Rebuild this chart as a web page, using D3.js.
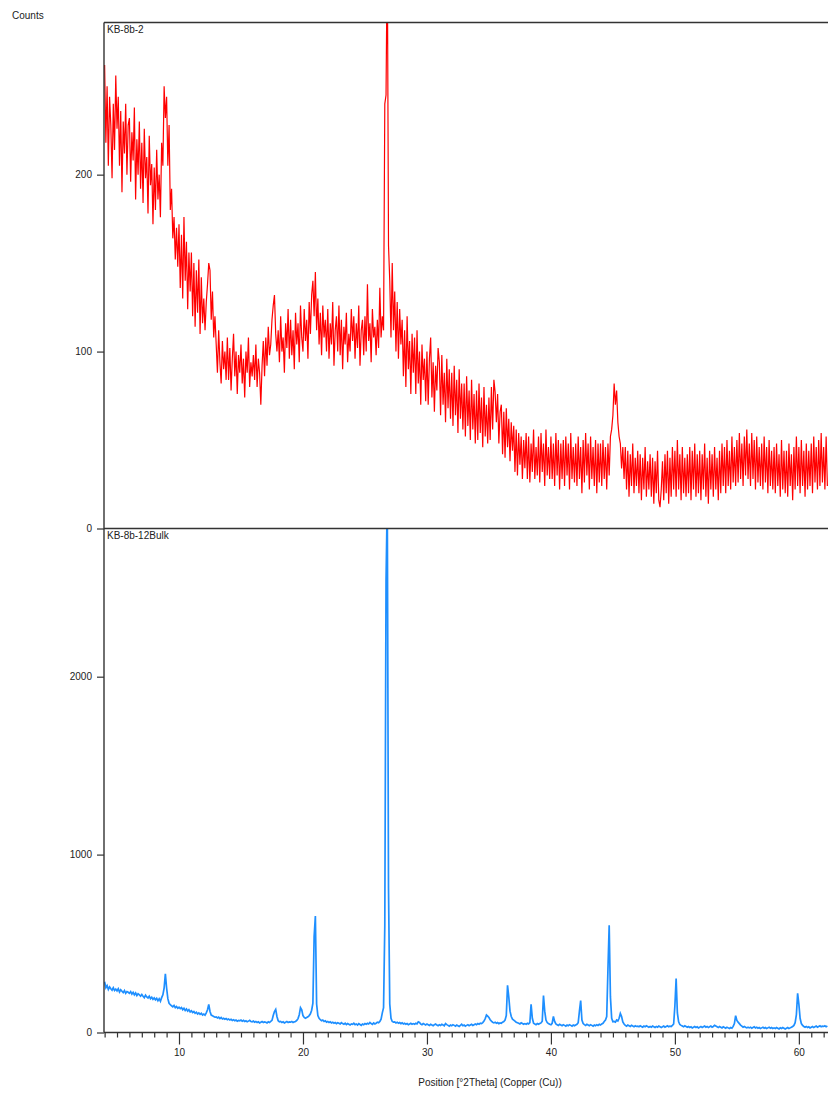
<!DOCTYPE html>
<html><head><meta charset="utf-8">
<script src="https://cdn.jsdelivr.net/npm/d3@7"></script>
<style>
body{margin:0;background:#fff}
svg{display:block}
text{font-family:"Liberation Sans",Arial,sans-serif;font-size:10px;fill:#222}
</style>
</head><body>
<svg id="chart" width="828" height="1093"></svg>
<script>
// ---- data ----
const xMajorTicks = [10, 20, 30, 40, 50, 60];
const topYTicks = [0, 100, 200];
const bottomYTicks = [0, 1000, 2000];
const topSampleName = "KB-8b-2";
const bottomSampleName = "KB-8b-12Bulk";
const yAxisTitle = "Counts";
const xAxisTitle = "Position [°2Theta] (Copper (Cu))";

// KB-8b-2 : 2theta from 4.0, step 0.1 (one row = 1 degree)
const redStart = 4.0, redStep = 0.1;
const redCounts = [
 262,218,250,205,244,228,198,240,214,256,
 226,244,205,236,190,230,212,240,200,228,
 232,196,224,208,238,186,220,200,230,192,
 218,184,226,198,210,178,222,194,206,172,
 204,180,214,186,200,176,218,205,250,232,
 244,205,228,180,192,164,176,152,170,148,
 172,136,166,130,176,140,162,124,156,134,
 156,120,150,114,146,122,152,110,142,116,
 130,112,128,138,150,146,118,134,108,120,
 104,88,112,94,82,106,90,100,84,108,
 84,102,78,96,110,86,100,76,98,88,
 104,82,96,74,100,88,108,80,94,86,
 98,84,104,80,96,88,70,92,106,86,
 108,92,114,98,104,118,126,132,110,100,
 112,94,120,100,108,88,116,102,124,96,
 118,98,112,90,122,104,116,94,126,108,
 100,124,106,118,96,128,110,132,140,120,
 145,112,130,104,122,98,126,108,118,100,
 124,96,116,104,128,92,112,120,100,126,
 98,118,90,114,104,122,94,110,100,124,
 106,120,96,116,102,126,92,112,118,98,
 120,100,138,106,116,94,124,108,114,98,
 118,102,136,108,120,112,240,245,330,160,
 140,108,150,112,134,100,128,96,124,104,
 118,86,112,80,120,90,106,76,110,88,
 108,76,112,82,100,70,104,84,96,72,
 100,70,96,108,74,94,66,92,78,102,
 94,64,98,70,88,60,96,68,90,62,
 88,58,92,64,84,54,90,62,82,56,
 82,52,86,58,78,50,84,56,76,48,
 78,50,82,54,74,46,80,52,70,48,
 74,50,80,56,84,77,60,76,48,66,
 70,42,66,40,68,46,62,38,60,44,
 58,32,56,30,54,36,52,28,50,34,
 54,28,52,26,48,32,56,28,46,30,
 52,26,54,32,48,24,56,30,46,28,
 52,28,48,24,54,30,50,22,48,28,
 50,24,52,30,48,22,54,28,46,26,
 48,24,52,28,46,20,50,26,54,30,
 48,22,52,28,46,24,50,20,48,26,
 48,24,50,28,46,22,48,30,52,56,
 64,82,70,78,60,52,48,34,46,28,
 46,22,44,18,42,24,48,20,40,24,
 44,20,42,16,40,22,46,18,38,22,
 42,18,40,14,38,20,44,16,12,22,
 38,16,42,20,44,14,40,18,46,22,
 44,18,50,22,42,16,46,20,40,18,
 42,20,46,16,44,22,48,18,42,20,
 44,16,42,22,48,18,40,14,44,22,
 42,18,46,22,40,16,44,20,48,24,
 46,20,50,24,44,22,52,26,46,24,
 50,26,54,28,48,24,52,30,56,28,
 48,24,54,28,50,22,52,26,46,24,
 48,22,52,26,46,20,50,24,44,22,
 46,20,48,24,42,18,50,22,44,20,
 44,18,48,24,42,16,46,22,52,24,
 46,20,50,24,44,18,48,22,44,24,
 48,20,52,26,46,22,50,24,54,26,
 46,22,52,24
];

// KB-8b-12Bulk : 2theta from 4.0, step 0.1 (one row = 1 degree)
const blueStart = 4.0, blueStep = 0.1;
const blueCounts = [
 285,252,264,242,256,246,238,252,236,244,
 234,246,228,240,232,224,236,220,230,226,
 220,230,216,226,212,222,208,218,212,204,
 214,204,196,210,200,194,204,190,198,186,
 194,184,192,178,190,176,196,212,250,330,
 250,190,164,156,150,144,152,140,146,136,
 142,134,140,128,136,124,132,120,128,116,
 122,112,118,108,114,104,110,102,108,98,
 104,98,110,128,158,118,98,94,90,86,
 88,82,86,78,84,76,80,74,78,72,
 76,70,74,68,72,66,70,64,68,66,
 70,64,68,62,66,60,64,68,62,60,
 64,58,62,56,60,54,58,62,56,60,
 58,54,60,56,62,68,95,118,130,90,
 66,60,62,56,60,54,58,62,56,60,
 58,62,56,60,62,68,78,100,140,128,
 95,85,80,84,88,95,105,125,165,540,
 655,160,95,80,72,66,70,62,66,58,
 62,56,60,54,58,52,56,50,55,52,
 48,55,50,46,52,44,50,46,42,48,
 46,52,44,48,42,50,45,40,48,44,
 50,46,52,48,56,50,46,54,48,52,
 58,55,62,75,110,140,600,2540,3000,810,
 160,80,62,58,60,54,58,52,56,50,
 54,48,52,46,50,44,48,52,46,50,
 46,52,48,60,56,48,44,50,46,42,
 48,44,40,46,42,38,44,48,42,38,
 44,40,46,42,38,50,44,40,36,42,
 38,44,40,36,42,38,34,40,46,38,
 42,36,40,44,38,42,46,40,44,48,
 44,50,46,52,50,56,64,78,98,92,
 84,72,64,58,54,58,52,56,50,54,
 52,58,62,70,95,265,200,120,90,75,
 70,64,58,55,52,48,54,50,46,50,
 46,52,48,55,158,80,52,48,44,50,
 46,50,54,64,208,120,70,56,50,46,
 44,52,90,62,48,44,40,46,42,38,
 44,40,36,42,38,44,40,36,42,38,
 42,46,55,120,180,70,50,44,40,46,
 42,38,44,40,36,42,38,44,40,46,
 42,48,52,62,70,90,355,603,200,80,
 60,62,58,70,65,80,107,90,60,48,
 40,36,42,38,34,40,36,32,38,34,
 36,32,38,34,30,36,32,38,34,30,
 34,30,36,32,28,34,30,36,32,28,
 32,36,30,34,38,32,36,34,40,48,
 150,304,110,60,45,40,36,32,38,34,
 30,34,28,32,26,30,34,28,32,26,
 30,34,28,32,36,30,34,28,32,36,
 30,34,40,36,32,28,34,30,26,32,
 28,24,30,26,22,28,24,34,50,95,
 68,58,50,42,36,30,34,30,26,30,
 26,30,24,28,32,26,30,24,28,22,
 26,30,24,28,22,26,30,24,28,22,
 26,22,28,24,20,26,22,28,24,20,
 24,28,22,26,30,34,40,55,100,220,
 160,80,50,40,34,30,34,28,32,26,
 30,34,28,32,36,30,34,38,32,36,
 34,38,32,36
];

// ---- layout ----
const svg = d3.select("#chart");
const L = 104, R = 828, T = 22.5, MID = 528.5, B = 1032.5;

const x = d3.scaleLinear().domain([3.95, 62.35]).range([L, R]);
const yTop = d3.scaleLinear().domain([0, 286]).range([MID, T]);
const yBot = d3.scaleLinear().domain([0, 2833]).range([B, MID]);

const defs = svg.append("defs");
defs.append("clipPath").attr("id", "clipTop").append("rect")
  .attr("x", L).attr("y", T).attr("width", R - L).attr("height", MID - T);
defs.append("clipPath").attr("id", "clipBot").append("rect")
  .attr("x", L).attr("y", MID).attr("width", R - L).attr("height", B - MID);

const redPts = redCounts.map((v, i) => [redStart + i * redStep, v]);
const bluePts = blueCounts.map((v, i) => [blueStart + i * blueStep, v]);

svg.append("path").datum(redPts)
  .attr("clip-path", "url(#clipTop)")
  .attr("fill", "none").attr("stroke", "#ff0000").attr("stroke-width", 1.2)
  .attr("d", d3.line().x(d => x(d[0])).y(d => yTop(d[1])));

svg.append("path").datum(bluePts)
  .attr("clip-path", "url(#clipBot)")
  .attr("fill", "none").attr("stroke", "#1e8fff").attr("stroke-width", 1.7)
  .attr("d", d3.line().x(d => x(d[0])).y(d => yBot(d[1])));

// frame lines
const frame = svg.append("g").attr("stroke", "#333").attr("stroke-width", 1.4);
frame.append("line").attr("x1", L).attr("x2", R).attr("y1", T).attr("y2", T);
frame.append("line").attr("x1", L).attr("x2", R).attr("y1", MID).attr("y2", MID);
frame.append("line").attr("x1", L).attr("x2", L).attr("y1", T).attr("y2", B);
frame.append("line").attr("x1", L).attr("x2", R).attr("y1", B).attr("y2", B);

function styleAxis(g) {
  g.select(".domain").remove();
  g.selectAll(".tick line").attr("stroke", "#333").attr("stroke-width", 1.2);
  g.selectAll(".tick text").attr("fill", "#222").style("font-size", "10px")
    .style("font-family", '"Liberation Sans",Arial,sans-serif');
}

svg.append("g").attr("transform", `translate(${L},0)`)
  .call(d3.axisLeft(yTop).tickValues(topYTicks).tickSize(7).tickPadding(5).tickFormat(d3.format("d")))
  .call(styleAxis);
svg.append("g").attr("transform", `translate(${L},0)`)
  .call(d3.axisLeft(yBot).tickValues(bottomYTicks).tickSize(7).tickPadding(5).tickFormat(d3.format("d")))
  .call(styleAxis);

const minorTicks = d3.range(4, 63).filter(v => v % 10 !== 0);
svg.append("g").attr("transform", `translate(0,${B})`)
  .call(d3.axisBottom(x).tickValues(minorTicks).tickSize(5).tickFormat(""))
  .call(styleAxis);
svg.append("g").attr("transform", `translate(0,${B})`)
  .call(d3.axisBottom(x).tickValues(xMajorTicks).tickSize(12).tickPadding(4).tickFormat(d3.format("d")))
  .call(styleAxis);

// texts
svg.append("text").attr("x", 12).attr("y", 19).text(yAxisTitle);
svg.append("text").attr("x", 107).attr("y", 33).text(topSampleName);
svg.append("text").attr("x", 107).attr("y", 539).text(bottomSampleName);
svg.append("text").attr("x", 490).attr("y", 1086).attr("text-anchor", "middle").text(xAxisTitle);
</script>
</body></html>
